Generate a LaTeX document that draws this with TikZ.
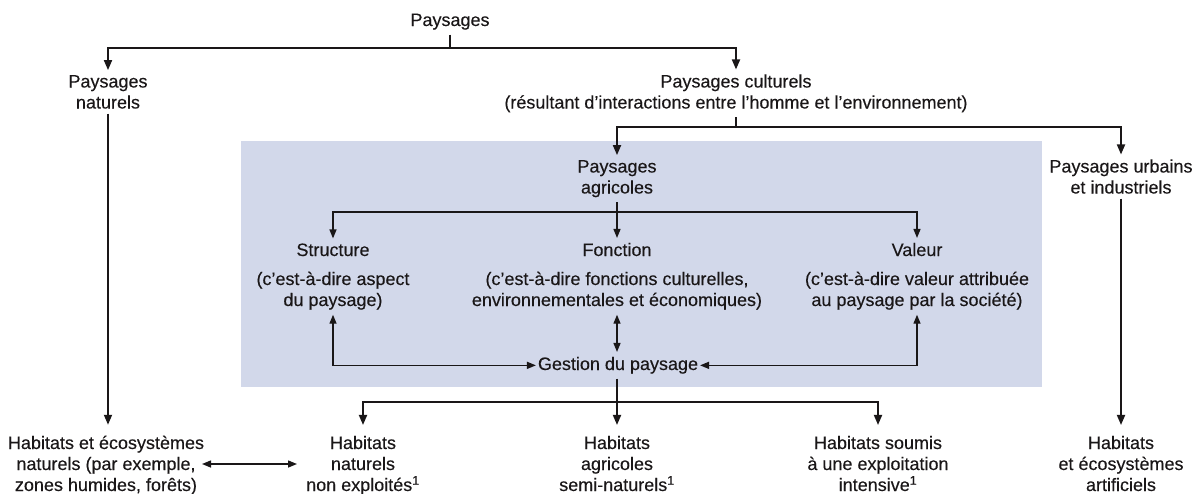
\documentclass[tikz,border=0pt]{standalone}
\usepackage{fontspec}
\setmainfont[FakeBold=0.25]{Liberation Sans}
\usetikzlibrary{arrows.meta,calc}
\definecolor{boxblue}{HTML}{D2D8EA}
\definecolor{ink}{HTML}{1A1718}
\tikzset{
  lbl/.style={font=\fontsize{18}{21}\selectfont, align=center, inner sep=0pt, outer xsep=2pt, outer ysep=5pt, anchor=base, text=ink},
  low/.style={lbl, outer ysep=11pt},
  main/.style={draw=ink, line width=1.8pt},
  inner/.style={draw=ink, line width=1.4pt},
  arr/.style={-{Triangle[length=10pt,width=8pt]}},
  arrs/.style={-{Triangle[length=9pt,width=7pt]}},
  darrs/.style={{Triangle[length=9pt,width=7pt]}-{Triangle[length=9pt,width=7pt]}},
}
\begin{document}
\begin{tikzpicture}[x=1pt,y=-1pt]
\useasboundingbox (0,0) rectangle (1196,493);
\fill[boxblue] (241,141) rectangle (1042,387);

% nodes (anchor base = baseline of the last line)
\node[lbl] (pays) at (450,26) {Paysages};
\node[lbl] (nat) at (108,108.5) {Paysages\\naturels};
\node[lbl] (cult) at (736,108.5) {Paysages culturels\\(résultant d’interactions entre l’homme et l’environnement)};
\node[lbl] (urb) at (1121,193.5) {Paysages urbains\\et industriels};
\node[lbl] (agr) at (617,193.5) {Paysages\\agricoles};
\node[lbl] (struc) at (333,256) {Structure};
\node[lbl] (fonc) at (617,256) {Fonction};
\node[lbl] (val) at (917,256) {Valeur};
\node[lbl] (strucd) at (333,306) {(c’est-à-dire aspect\\du paysage)};
\node[lbl] (foncd) at (617,306) {(c’est-à-dire fonctions culturelles,\\environnementales et économiques)};
\node[lbl] (vald) at (917,306) {(c’est-à-dire valeur attribuée\\au paysage par la société)};
\node[lbl] (gest) at (618,370) {Gestion du paysage};
\node[low] (h1) at (106,491) {Habitats et écosystèmes\\naturels (par exemple,\\zones humides, forêts)};
\node[low] (h2) at (363,491) {Habitats\\naturels\\non exploités\textsuperscript{1}};
\node[low] (h3) at (617,491) {Habitats\\agricoles\\semi-naturels\textsuperscript{1}};
\node[low] (h4) at (878,491) {Habitats soumis\\à une exploitation\\intensive\textsuperscript{1}};
\node[low] (h5) at (1121,491) {Habitats\\et écosystèmes\\artificiels};

% junction coordinates
\coordinate (p1) at (450,48);
\coordinate (c1) at (736,127);
\coordinate (a1) at (617,212);
\coordinate (g1) at (617,402);
\coordinate (d1) at (202,464);
\coordinate (d2) at (297,464);

% connectors outside the box
\draw[main] (pays.south) -- (p1);
\draw[main,arr] (p1) -| (nat.north);
\draw[main,arr] (p1) -| (cult.north);
\draw[main] (cult.south) -- (c1);
\draw[main,arr] (c1) -| (agr.north);
\draw[main,arr] (c1) -| (urb.north);
\draw[main,arr] (nat.south) -- (nat.south |- h1.north);
\draw[main,arr] (urb.south) -- (h5.north);

% connectors in the box
\draw[inner] (agr.south) -- (a1);
\draw[inner,arrs] (a1) -| (struc.north);
\draw[inner,arrs] (a1) -- (fonc.north);
\draw[inner,arrs] (a1) -| (val.north);
\draw[inner,darrs] (strucd.south) |- (gest.west);
\draw[inner,darrs] (vald.south) |- (gest.east);
\draw[inner,darrs] (foncd.south) -- (gest.north -| foncd.south);

% lower connectors
\draw[main] (gest.south -| g1) -- (g1);
\draw[main,arr] (g1) -- (h3.north);
\draw[main,arr] (g1) -| (h2.north);
\draw[main,arr] (g1) -| (h4.north);
\draw[inner,darrs] (d1) -- (d2);
\end{tikzpicture}
\end{document}
